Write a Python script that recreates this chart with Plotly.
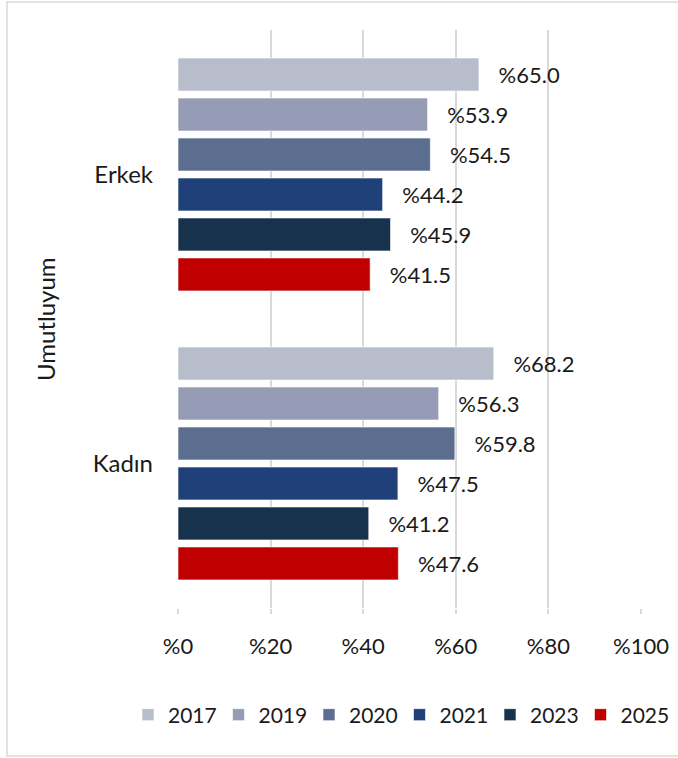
import plotly.graph_objects as go

categories = ["Erkek", "Kadın"]
years = ["2017", "2019", "2020", "2021", "2023", "2025"]
values = {
    "2017": [65.0, 68.2],
    "2019": [53.9, 56.3],
    "2020": [54.5, 59.8],
    "2021": [44.2, 47.5],
    "2023": [45.9, 41.2],
    "2025": [41.5, 47.6],
}
colors = ["#B8BDCC", "#969CB5", "#5B6E8F", "#1F4078", "#17324D", "#C00000"]
x_ticks = [0, 20, 40, 60, 80, 100]
x_tick_labels = ["%0", "%20", "%40", "%60", "%80", "%100"]
y_title = "Umutluyum"

FONT = "Lato, 'Open Sans', sans-serif"
W, H = 678, 758
ML, MR, MT, MB = 178, 37, 30, 150
PW, PH = W - ML - MR, H - MT - MB

fig = go.Figure()
for yr, col in zip(years, colors):
    vals = values[yr]
    fig.add_trace(go.Bar(
        y=categories, x=vals, name=yr, orientation="h",
        marker=dict(color=col, line=dict(color="rgba(255,255,255,0.6)", width=1)),
        text=["\u2002 %" + f"{v:.1f}" for v in vals],
        textposition="outside", cliponaxis=False,
        textfont=dict(family=FONT, size=22, color="#1a1a1a"),
        hoverinfo="skip",
    ))

def px_x(p):
    return (p - ML) / PW

def px_y(p):
    return 1 - (p - MT) / PH

fig.update_layout(
    width=W, height=H,
    margin=dict(l=ML, r=MR, t=MT, b=MB, autoexpand=False),
    paper_bgcolor="white", plot_bgcolor="white",
    barmode="group", bargap=0.17, bargroupgap=0.175,
    font=dict(family=FONT, size=20, color="#1a1a1a"),
    showlegend=True,
    legend=dict(orientation="h", x=px_x(128), xanchor="left", y=px_y(715), yanchor="middle",
                font=dict(family=FONT, size=21, color="#1a1a1a"),
                entrywidth=45.5, entrywidthmode="pixels",
                itemwidth=30, tracegroupgap=0, bgcolor="rgba(0,0,0,0)"),
    xaxis=dict(range=[0, 100], tickvals=x_ticks, ticktext=x_tick_labels,
               showgrid=True, gridcolor="#D9D9D9", gridwidth=1.5,
               zeroline=False, showline=False,
               ticks="outside", ticklen=5, tickcolor="#D9D9D9", tickwidth=1.5,
               ticklabelstandoff=14,
               tickfont=dict(family=FONT, size=22, color="#1a1a1a")),
    yaxis=dict(categoryorder="array", categoryarray=categories, autorange="reversed",
               showgrid=False, zeroline=False, showline=False, ticks="",
               ticklabelstandoff=24,
               tickfont=dict(family=FONT, size=24, color="#1a1a1a")),
    annotations=[dict(text=y_title, x=px_x(45), y=0.5, xref="paper", yref="paper",
                      xanchor="center", yanchor="middle", textangle=-90, showarrow=False,
                      font=dict(family=FONT, size=24, color="#1a1a1a"))],
    shapes=[dict(type="rect", xref="paper", yref="paper",
                 x0=px_x(7), x1=px_x(690), y0=px_y(756), y1=px_y(2),
                 line=dict(color="#D9D9D9", width=1.5), fillcolor="rgba(0,0,0,0)", layer="below")],
)

fig.write_html("out.html", config={"displayModeBar": False},
               post_script="document.body.style.margin='0';")
